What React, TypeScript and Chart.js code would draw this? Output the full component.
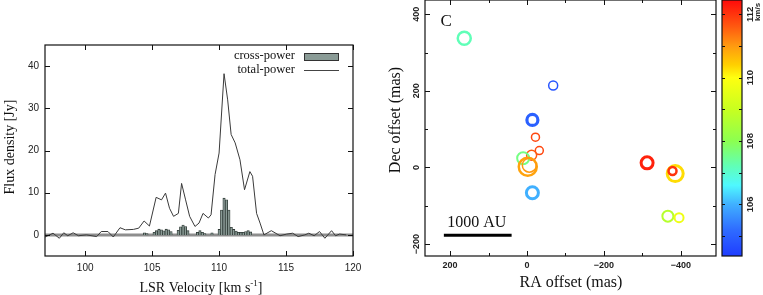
import React, { useEffect, useRef } from 'react';
import { Chart, registerables } from 'chart.js';
Chart.register(...registerables);

// ---------------- Spectrum data ----------------
const TP_VEL = [97.0, 97.6, 98.07, 98.4, 98.7, 99.1, 99.5, 100.1, 100.86, 101.2, 101.7, 102.1, 102.6, 103.0, 103.6, 104.0, 104.4, 104.8, 105.3, 105.7, 106.0, 106.3, 106.6, 106.96, 107.2, 107.5, 107.8, 108.2, 108.5, 108.8, 109.2, 109.4, 109.7, 110.0, 110.37, 110.64, 110.9, 111.2, 111.56, 111.9, 112.3, 112.5, 112.8, 113.06, 113.35, 113.9, 114.55, 115.05, 115.5, 115.9, 116.4, 116.7, 117.1, 117.5, 117.9, 118.4, 118.7, 119.0, 119.5];
const TP_FLUX = [-0.5, 0.4, -0.8, 0.5, -0.2, 0.5, -0.2, 0.0, -0.4, 0.8, 0.8, -0.5, 1.7, 1.2, 1.3, 1.6, 3.3, 2.1, 8.9, 8.3, 9.9, 6.3, 4.4, 5.1, 12.2, 8.3, 4.4, 2.0, 2.8, 5.1, 4.0, 4.75, 14.3, 19.4, 38.2, 32.0, 23.8, 21.8, 17.8, 10.7, 15.0, 13.9, 5.1, 2.8, 0.0, 1.0, -0.2, 0.2, 0.4, -0.4, 0.0, 0.4, -0.2, 0.8, -0.8, 1.0, -0.2, 0.2, 0.0];

const CP_VEL = [104.43, 104.61, 105.15, 105.33, 105.51, 105.69, 105.87, 106.05, 106.23, 106.41, 106.95, 107.13, 107.31, 107.49, 107.67, 108.39, 108.57, 108.75, 108.93, 109.47, 110.01, 110.19, 110.37, 110.55, 110.73, 110.91, 111.09, 111.27, 111.45, 111.63, 111.81, 111.99, 112.17, 112.35];
const CP_FLUX = [0.5, 0.3, 0.6, 1.0, 1.35, 1.2, 0.95, 1.35, 1.2, 0.8, 1.1, 1.9, 2.35, 2.0, 1.0, 0.6, 1.0, 0.6, 0.3, 0.5, 1.3, 5.9, 8.7, 8.3, 5.9, 1.8, 1.3, 0.9, 0.6, 0.6, 0.6, 0.8, 1.0, 0.7];

const SPEC_X_TICKS = [100, 105, 110, 115, 120];
const SPEC_Y_TICKS = [0, 10, 20, 30, 40];
const SPEC_LEGEND = ['cross-power', 'total-power'];

// ---------------- Maser spot map data ----------------
const SPOT_RA = [163, -68, -14, -22, -32, -12, 10, -2, -6, -14, -312, -385, -378, -366, -395];
const SPOT_DEC = [337, 214, 124, 79, 44, 32, 24, 2, 6, -66, 12, -16, -9, -127, -131];
const SPOT_VLSR = [107.2, 104.8, 105.0, 111.8, 111.8, 111.6, 107.6, 110.9, 111.0, 106.0, 112.2, 110.3, 112.0, 108.7, 109.7];
const SPOT_SIZE = [6.5, 4.5, 5.5, 4, 4, 5, 6, 9, 7, 6, 6, 8, 4, 5.5, 4.5];

const MAP_X_TICKS = [200, 0, -200, -400];
const MAP_X_MINOR = [100, -100, -300];
const MAP_Y_TICKS = [-200, 0, 200, 400];
const MAP_Y_MINOR = [-100, 100, 300];
const CBAR_TICKS = [106, 108, 110, 112];
const CBAR_MINOR = [105, 107, 109, 111];
const CBAR_MIN = 104.37;
const CBAR_MAX = 112.45;
const SCALE_BAR_RA = [216, 40];
const SCALE_BAR_DEC = -177;
const SCALE_BAR_LABEL = '1000 AU';
const PANEL_LABEL = 'C';
const PANEL_LABEL_POS = [210, 382];

// colormap (rainbow)
const CMAP_VALUES = [104.37, 105.2, 106.0, 106.6, 107.2, 108.0, 109.0, 110.0, 110.4, 111.0, 111.6, 112.45];
const CMAP_COLORS = ['#1f3dff', '#2f6cff', '#40b0ff', '#4ff8ff', '#60ffb8', '#8cff50', '#c8ff20', '#ffff10', '#ffd000', '#ff9a10', '#ff5a10', '#ff0a0a'];

const RING_WIDTH = [2.5, 1.5, 3.2, 1.5, 1.5, 1.5, 2, 2.5, 1.5, 3, 3, 3, 2.5, 2, 2];

const SERIF = '"Liberation Serif", "Times New Roman", serif';
const SANS = '"Liberation Sans", Arial, sans-serif';

function hexToRgb(h: string) {
  const n = parseInt(h.slice(1), 16);
  return [(n >> 16) & 255, (n >> 8) & 255, n & 255];
}
function velColor(v: number) {
  if (v <= CMAP_VALUES[0]) return CMAP_COLORS[0];
  for (let i = 1; i < CMAP_VALUES.length; i++) {
    if (v <= CMAP_VALUES[i]) {
      const t = (v - CMAP_VALUES[i - 1]) / (CMAP_VALUES[i] - CMAP_VALUES[i - 1]);
      const a = hexToRgb(CMAP_COLORS[i - 1]);
      const b = hexToRgb(CMAP_COLORS[i]);
      const c = a.map((x, k) => Math.round(x + (b[k] - x) * t));
      return `rgb(${c[0]},${c[1]},${c[2]})`;
    }
  }
  return CMAP_COLORS[CMAP_COLORS.length - 1];
}

const specPlugin = {
  id: 'specDecor',
  beforeDatasetsDraw(chart: any) {
    const { ctx, chartArea: a, scales } = chart;
    const y0 = scales.y.getPixelForValue(0);
    ctx.save();
    ctx.strokeStyle = '#8e8e8e';
    ctx.lineWidth = 3;
    ctx.beginPath();
    ctx.moveTo(a.left, y0);
    ctx.lineTo(a.right, y0);
    ctx.stroke();
    ctx.restore();
  },
  afterDraw(chart: any) {
    const { ctx, chartArea: a, scales } = chart;
    ctx.save();
    ctx.strokeStyle = '#111';
    ctx.lineWidth = 1.2;
    ctx.strokeRect(a.left, a.top, a.right - a.left, a.bottom - a.top);
    ctx.lineWidth = 1;
    ctx.beginPath();
    SPEC_X_TICKS.forEach((v) => {
      const x = Math.round(scales.x.getPixelForValue(v)) + 0.5;
      ctx.moveTo(x, a.bottom); ctx.lineTo(x, a.bottom - 5);
      ctx.moveTo(x, a.top); ctx.lineTo(x, a.top + 5);
    });
    SPEC_Y_TICKS.forEach((v) => {
      const y = Math.round(scales.y.getPixelForValue(v)) + 0.5;
      ctx.moveTo(a.left, y); ctx.lineTo(a.left + 5, y);
      ctx.moveTo(a.right, y); ctx.lineTo(a.right - 5, y);
    });
    ctx.stroke();

    // legend
    ctx.fillStyle = '#111';
    ctx.font = `12.5px ${SERIF}`;
    ctx.textAlign = 'right';
    ctx.textBaseline = 'middle';
    ctx.fillText(SPEC_LEGEND[0], 295, 56);
    ctx.fillText(SPEC_LEGEND[1], 295, 70);
    ctx.fillStyle = '#8a9b96';
    ctx.fillRect(304, 53, 35, 7);
    ctx.strokeStyle = '#333';
    ctx.lineWidth = 1;
    ctx.strokeRect(304.5, 53.5, 34, 7);
    ctx.strokeStyle = '#444';
    ctx.beginPath();
    ctx.moveTo(304, 70.5); ctx.lineTo(339, 70.5);
    ctx.stroke();

    // axis titles
    ctx.fillStyle = '#111';
    ctx.font = `14px ${SERIF}`;
    ctx.textAlign = 'center';
    ctx.save();
    ctx.translate(10, 147);
    ctx.rotate(-Math.PI / 2);
    ctx.fillText('Flux density [Jy]', 0, 0);
    ctx.restore();
    const main = 'LSR Velocity [km s';
    const sup = '-1';
    const end = ']';
    ctx.font = `14px ${SERIF}`;
    const w1 = ctx.measureText(main).width;
    const w3 = ctx.measureText(end).width;
    ctx.font = `9px ${SERIF}`;
    const w2 = ctx.measureText(sup).width;
    const total = w1 + w2 + w3;
    let x = 201 - total / 2;
    ctx.textAlign = 'left';
    ctx.textBaseline = 'alphabetic';
    ctx.font = `14px ${SERIF}`;
    ctx.fillText(main, x, 292);
    x += w1;
    ctx.font = `9px ${SERIF}`;
    ctx.fillText(sup, x, 286);
    x += w2;
    ctx.font = `14px ${SERIF}`;
    ctx.fillText(end, x, 292);
    ctx.restore();
  },
};

const mapPlugin = {
  id: 'mapDecor',
  afterDraw(chart: any) {
    const { ctx, chartArea: a, scales } = chart;
    const sx = scales.x, sy = scales.y;
    ctx.save();
    ctx.strokeStyle = '#111';
    ctx.lineWidth = 1.2;
    ctx.strokeRect(a.left, a.top, a.right - a.left, a.bottom - a.top);
    ctx.lineWidth = 1;
    ctx.beginPath();
    const xt = (v: number, len: number) => {
      const x = Math.round(sx.getPixelForValue(v)) + 0.5;
      ctx.moveTo(x, a.bottom); ctx.lineTo(x, a.bottom - len);
      ctx.moveTo(x, a.top); ctx.lineTo(x, a.top + len);
    };
    const yt = (v: number, len: number) => {
      const y = Math.round(sy.getPixelForValue(v)) + 0.5;
      ctx.moveTo(a.left, y); ctx.lineTo(a.left + len, y);
      ctx.moveTo(a.right, y); ctx.lineTo(a.right - len, y);
    };
    MAP_X_TICKS.forEach((v) => xt(v, 5));
    MAP_X_MINOR.forEach((v) => xt(v, 3));
    MAP_Y_TICKS.forEach((v) => yt(v, 5));
    MAP_Y_MINOR.forEach((v) => yt(v, 3));
    ctx.stroke();

    ctx.fillStyle = '#222';
    ctx.font = `bold 9px ${SANS}`;
    ctx.textAlign = 'center';
    ctx.textBaseline = 'middle';
    MAP_Y_TICKS.forEach((v) => {
      const y = sy.getPixelForValue(v);
      ctx.save();
      ctx.translate(37, y);
      ctx.rotate(-Math.PI / 2);
      ctx.fillText(v === 0 ? '0' : v < 0 ? '\u2212' + Math.abs(v) : String(v), 0, 0);
      ctx.restore();
    });

    ctx.fillStyle = '#111';
    ctx.font = `16px ${SERIF}`;
    ctx.save();
    ctx.translate(16, 120);
    ctx.rotate(-Math.PI / 2);
    ctx.fillText('Dec offset (mas)', 0, 0);
    ctx.restore();
    ctx.fillText('RA offset (mas)', 191, 283);

    ctx.font = `17px ${SERIF}`;
    ctx.fillText(PANEL_LABEL, sx.getPixelForValue(PANEL_LABEL_POS[0]), sy.getPixelForValue(PANEL_LABEL_POS[1]));

    const bx1 = sx.getPixelForValue(SCALE_BAR_RA[0]);
    const bx2 = sx.getPixelForValue(SCALE_BAR_RA[1]);
    const by = sy.getPixelForValue(SCALE_BAR_DEC);
    ctx.strokeStyle = '#000';
    ctx.lineWidth = 3;
    ctx.beginPath();
    ctx.moveTo(bx1, by); ctx.lineTo(bx2, by);
    ctx.stroke();
    ctx.font = `16px ${SERIF}`;
    ctx.fillText(SCALE_BAR_LABEL, (bx1 + bx2) / 2 - 1, by - 13);

    const cx1 = 342, cx2 = 362;
    const top = a.top, bot = a.bottom;
    const g = ctx.createLinearGradient(0, bot, 0, top);
    CMAP_VALUES.forEach((v, i) => {
      g.addColorStop(Math.min(1, Math.max(0, (v - CBAR_MIN) / (CBAR_MAX - CBAR_MIN))), CMAP_COLORS[i]);
    });
    ctx.fillStyle = g;
    ctx.fillRect(cx1, top, cx2 - cx1, bot - top);
    ctx.strokeStyle = '#111';
    ctx.lineWidth = 1.2;
    ctx.strokeRect(cx1, top, cx2 - cx1, bot - top);
    const cy = (v: number) => bot - ((v - CBAR_MIN) / (CBAR_MAX - CBAR_MIN)) * (bot - top);
    ctx.lineWidth = 1;
    ctx.beginPath();
    [...CBAR_TICKS, ...CBAR_MINOR].forEach((v) => {
      const y = Math.round(cy(v)) + 0.5;
      ctx.moveTo(cx1, y); ctx.lineTo(cx1 + 3, y);
      ctx.moveTo(cx2, y); ctx.lineTo(cx2 - 3, y);
    });
    ctx.stroke();
    ctx.fillStyle = '#222';
    ctx.font = `bold 9.5px ${SANS}`;
    CBAR_TICKS.forEach((v) => {
      ctx.save();
      ctx.translate(370, cy(v));
      ctx.rotate(-Math.PI / 2);
      ctx.fillText(String(v), 0, 0);
      ctx.restore();
    });
    ctx.save();
    ctx.font = `bold 8px ${SANS}`;
    ctx.translate(378, 12);
    ctx.rotate(-Math.PI / 2);
    ctx.fillText('km/s', 0, 0);
    ctx.restore();
    ctx.restore();
  },
};

export default function App() {
  const leftRef = useRef<HTMLCanvasElement | null>(null);
  const rightRef = useRef<HTMLCanvasElement | null>(null);

  useEffect(() => {
    const tickFont = { family: SANS, size: 10 };
    const left = new Chart(leftRef.current as HTMLCanvasElement, {
      type: 'bar',
      data: {
        datasets: [
          {
            type: 'line',
            label: SPEC_LEGEND[1],
            data: TP_VEL.map((v, i) => ({ x: v, y: TP_FLUX[i] })),
            borderColor: '#3a3a3a',
            borderWidth: 1,
            pointRadius: 0,
            tension: 0,
            order: 0,
          } as any,
          {
            type: 'bar',
            label: SPEC_LEGEND[0],
            data: CP_VEL.map((v, i) => ({ x: v, y: CP_FLUX[i] })),
            backgroundColor: '#8a9b96',
            borderColor: '#2f3a36',
            borderWidth: 0.8,
            borderSkipped: 'bottom',
            barPercentage: 1,
            categoryPercentage: 1,
            order: 1,
          } as any,
        ],
      },
      options: {
        responsive: false,
        animation: false,
        devicePixelRatio: 1,
        layout: { autoPadding: false, padding: { left: 0, right: 27, top: 45, bottom: 0 } },
        plugins: { legend: { display: false }, tooltip: { enabled: false } },
        scales: {
          x: {
            type: 'linear',
            min: 97,
            max: 120,
            offset: false,
            grid: { display: false, drawTicks: false, offset: false },
            border: { display: false },
            ticks: { font: tickFont, color: '#222', padding: 6, maxRotation: 0, autoSkip: false },
            afterBuildTicks: (s: any) => { s.ticks = SPEC_X_TICKS.map((v) => ({ value: v })); },
            afterFit: (s: any) => { s.height = 39; },
          },
          y: {
            type: 'linear',
            min: -5,
            max: 45,
            grid: { display: false, drawTicks: false },
            border: { display: false },
            ticks: { font: tickFont, color: '#222', padding: 6, autoSkip: false },
            afterBuildTicks: (s: any) => { s.ticks = SPEC_Y_TICKS.map((v) => ({ value: v })); },
            afterFit: (s: any) => { s.width = 45; },
          },
        },
      } as any,
      plugins: [specPlugin],
    });

    const right = new Chart(rightRef.current as HTMLCanvasElement, {
      type: 'scatter',
      data: {
        datasets: [
          {
            label: 'spots',
            data: SPOT_RA.map((ra, i) => ({ x: ra, y: SPOT_DEC[i] })),
            pointRadius: SPOT_SIZE,
            pointBorderWidth: RING_WIDTH,
            pointBorderColor: SPOT_VLSR.map(velColor),
            pointBackgroundColor: 'rgba(0,0,0,0)',
          } as any,
        ],
      },
      options: {
        responsive: false,
        animation: false,
        devicePixelRatio: 1,
        layout: { autoPadding: false, padding: { left: 0, right: 47, top: 0, bottom: 0 } },
        plugins: { legend: { display: false }, tooltip: { enabled: false } },
        scales: {
          x: {
            type: 'linear',
            min: -491,
            max: 265,
            reverse: true,
            grid: { display: false, drawTicks: false },
            border: { display: false },
            ticks: {
              font: { family: SANS, size: 9, weight: 'bold' },
              color: '#222',
              padding: 4,
              maxRotation: 0,
              autoSkip: false,
              callback: (v: any) => (v < 0 ? '\u2212' + Math.abs(v) : String(v)),
            },
            afterBuildTicks: (s: any) => { s.ticks = MAP_X_TICKS.map((v) => ({ value: v })); },
            afterFit: (s: any) => { s.height = 39; },
          },
          y: {
            type: 'linear',
            min: -231,
            max: 437,
            grid: { display: false, drawTicks: false },
            border: { display: false },
            ticks: { display: false },
            afterBuildTicks: (s: any) => { s.ticks = MAP_Y_TICKS.map((v) => ({ value: v })); },
            afterFit: (s: any) => { s.width = 45; },
          },
        },
      } as any,
      plugins: [mapPlugin],
    });

    return () => {
      left.destroy();
      right.destroy();
    };
  }, []);

  return (
    <div style={{ position: 'fixed', left: 0, top: 0, width: 763, height: 295, background: '#fff' }}>
      <canvas ref={leftRef} width={380} height={295} style={{ position: 'absolute', left: 0, top: 0, width: 380, height: 295 }} />
      <canvas ref={rightRef} width={383} height={295} style={{ position: 'absolute', left: 380, top: 0, width: 383, height: 295 }} />
    </div>
  );
}
